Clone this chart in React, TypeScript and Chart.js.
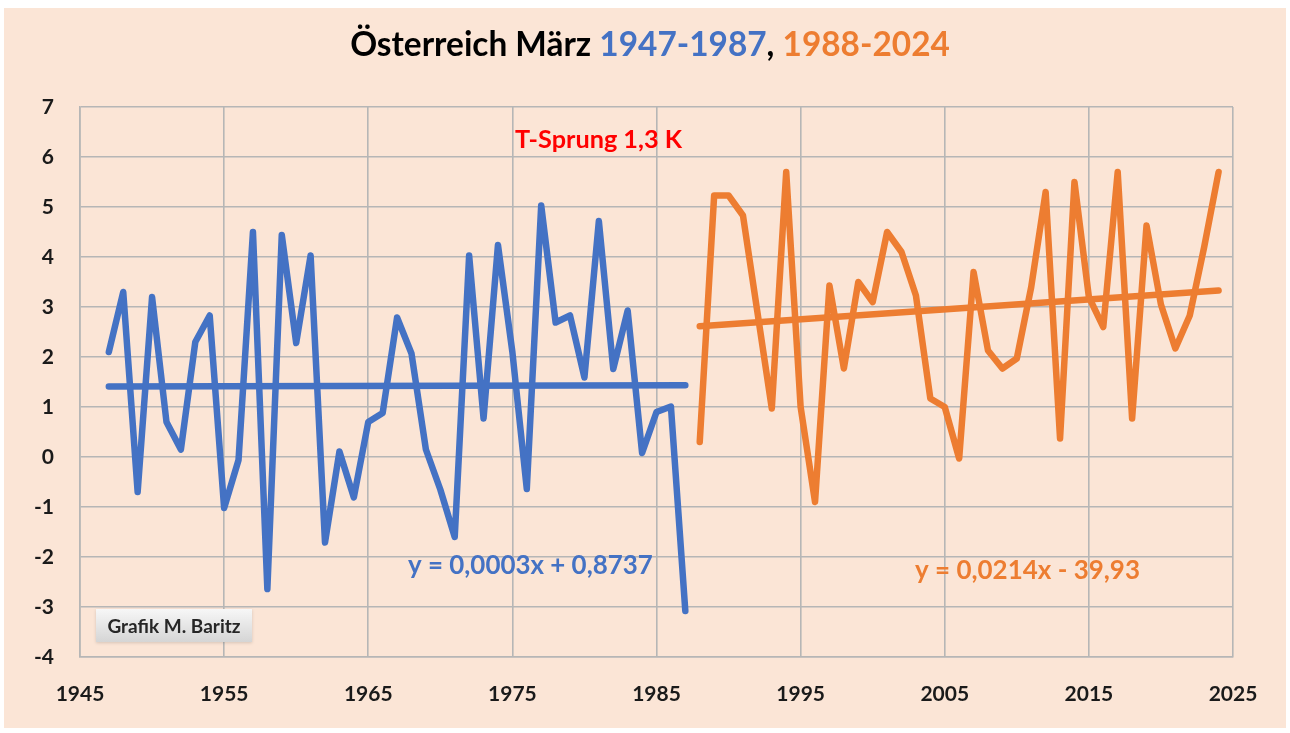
import React, { useEffect, useRef } from "react";
import { Chart, registerables } from "chart.js";

Chart.register(...registerables);

// ---- Data ----
const blueYears = [
  1947, 1948, 1949, 1950, 1951, 1952, 1953, 1954, 1955, 1956, 1957, 1958, 1959, 1960,
  1961, 1962, 1963, 1964, 1965, 1966, 1967, 1968, 1969, 1970, 1971, 1972, 1973, 1974,
  1975, 1976, 1977, 1978, 1979, 1980, 1981, 1982, 1983, 1984, 1985, 1986, 1987,
];
const blueValues = [
  2.1, 3.3, -0.7, 3.2, 0.7, 0.15, 2.3, 2.83, -1.02, -0.06, 4.5, -2.64, 4.44, 2.28,
  4.03, -1.71, 0.11, -0.81, 0.7, 0.88, 2.79, 2.07, 0.15, -0.65, -1.6, 4.03, 0.77, 4.24,
  2.1, -0.64, 5.03, 2.69, 2.83, 1.59, 4.72, 1.76, 2.93, 0.08, 0.9, 1.01, -3.08,
];
const orangeYears = [
  1988, 1989, 1990, 1991, 1992, 1993, 1994, 1995, 1996, 1997, 1998, 1999, 2000, 2001,
  2002, 2003, 2004, 2005, 2006, 2007, 2008, 2009, 2010, 2011, 2012, 2013, 2014, 2015,
  2016, 2017, 2018, 2019, 2020, 2021, 2022, 2023, 2024,
];
const orangeValues = [
  0.3, 5.23, 5.23, 4.83, 2.9, 0.97, 5.7, 1.0, -0.9, 3.43, 1.77, 3.5, 3.1, 4.5,
  4.1, 3.23, 1.17, 1.0, -0.03, 3.7, 2.13, 1.77, 1.97, 3.4, 5.3, 0.37, 5.5, 3.2,
  2.6, 5.7, 0.77, 4.63, 3.05, 2.17, 2.83, 4.2, 5.7,
];
const xTicks = [1945, 1955, 1965, 1975, 1985, 1995, 2005, 2015, 2025];
const yTicks = [-4, -3, -2, -1, 0, 1, 2, 3, 4, 5, 6, 7];

const titleParts = [
  { text: "Österreich März ", color: "#000000" },
  { text: "1947-1987", color: "#4472C4" },
  { text: ", ", color: "#000000" },
  { text: "1988-2024", color: "#ED7D31" },
];
const jumpLabel = "T-Sprung 1,3 K";
const blueEquation = "y = 0,0003x + 0,8737";
const orangeEquation = "y = 0,0214x - 39,93";
const creditLabel = "Grafik M. Baritz";

const BLUE = "#4472C4";
const ORANGE = "#ED7D31";
const PEACH = "#FBE5D6";
const GRID = "#B6B6B6";
const FONT = "Lato, 'Open Sans', sans-serif";

function regression(xs: number[], ys: number[]) {
  const n = xs.length;
  const mx = xs.reduce((a, b) => a + b, 0) / n;
  const my = ys.reduce((a, b) => a + b, 0) / n;
  let num = 0;
  let den = 0;
  for (let i = 0; i < n; i++) {
    num += (xs[i] - mx) * (ys[i] - my);
    den += (xs[i] - mx) * (xs[i] - mx);
  }
  const slope = num / den;
  const intercept = my - slope * mx;
  return (x: number) => slope * x + intercept;
}

function fitSize(ctx: CanvasRenderingContext2D, text: string, weight: string, width: number) {
  ctx.font = `${weight} 100px ${FONT}`;
  const w = ctx.measureText(text).width;
  return (100 * width) / w;
}

const decorPlugin = {
  id: "decor",
  beforeDraw(chart: any) {
    const ctx = chart.ctx as CanvasRenderingContext2D;
    ctx.save();
    ctx.fillStyle = "#ffffff";
    ctx.fillRect(0, 0, chart.width, chart.height);
    ctx.fillStyle = PEACH;
    ctx.fillRect(4, 8, 1282, 720);
    ctx.restore();
  },
  afterDraw(chart: any) {
    const ctx = chart.ctx as CanvasRenderingContext2D;
    ctx.save();
    ctx.textBaseline = "middle";

    // Title with coloured parts
    const full = titleParts.map((p) => p.text).join("");
    const tSize = fitSize(ctx, full, "bold", 600);
    ctx.font = `bold ${tSize}px ${FONT}`;
    const totalW = ctx.measureText(full).width;
    let x = 650 - totalW / 2;
    ctx.textAlign = "left";
    for (const p of titleParts) {
      ctx.fillStyle = p.color;
      ctx.fillText(p.text, x, 45);
      x += ctx.measureText(p.text).width;
    }

    // T-Sprung
    const jSize = fitSize(ctx, jumpLabel, "bold", 167);
    ctx.font = `bold ${jSize}px ${FONT}`;
    ctx.fillStyle = "#FF0000";
    ctx.textAlign = "left";
    ctx.fillText(jumpLabel, 515, 140);

    // Equations
    const bSize = fitSize(ctx, blueEquation, "bold", 245);
    ctx.font = `bold ${bSize}px ${FONT}`;
    ctx.fillStyle = BLUE;
    ctx.fillText(blueEquation, 408, 566);

    const oSize = fitSize(ctx, orangeEquation, "bold", 225);
    ctx.font = `bold ${oSize}px ${FONT}`;
    ctx.fillStyle = ORANGE;
    ctx.fillText(orangeEquation, 915, 571);

    // Credit box
    const bx = 96, by = 609, bw = 156, bh = 33;
    ctx.shadowColor = "rgba(0,0,0,0.15)";
    ctx.shadowBlur = 3;
    ctx.shadowOffsetY = 1;
    const g = ctx.createLinearGradient(0, by, 0, by + bh);
    g.addColorStop(0, "#F7F7F7");
    g.addColorStop(1, "#D5D5D5");
    ctx.fillStyle = g;
    ctx.fillRect(bx, by, bw, bh);
    ctx.shadowColor = "transparent";
    const cSize = fitSize(ctx, creditLabel, "bold", 136);
    ctx.font = `bold ${Math.min(cSize, 19)}px ${FONT}`;
    ctx.fillStyle = "#262626";
    ctx.textAlign = "center";
    ctx.fillText(creditLabel, bx + bw / 2, by + bh / 2 + 1);

    ctx.restore();
  },
};

export default function App() {
  const ref = useRef<HTMLCanvasElement | null>(null);

  useEffect(() => {
    document.body.style.margin = "0";
    document.body.style.overflow = "hidden";
    const canvas = ref.current;
    if (!canvas) return;

    const blueFit = regression(blueYears, blueValues);
    const orangeFit = regression(orangeYears, orangeValues);
    const bFirst = blueYears[0];
    const bLast = blueYears[blueYears.length - 1];
    const oFirst = orangeYears[0];
    const oLast = orangeYears[orangeYears.length - 1];

    const lineCommon = {
      pointRadius: 0,
      borderWidth: 6.5,
      borderJoinStyle: "round" as const,
      borderCapStyle: "round" as const,
      tension: 0,
      fill: false,
    };

    const chart = new Chart(canvas, {
      type: "line",
      data: {
        datasets: [
          {
            ...lineCommon,
            label: "1947-1987",
            data: blueYears.map((y, i) => ({ x: y, y: blueValues[i] })),
            borderColor: BLUE,
          },
          {
            ...lineCommon,
            label: "1988-2024",
            data: orangeYears.map((y, i) => ({ x: y, y: orangeValues[i] })),
            borderColor: ORANGE,
          },
          {
            ...lineCommon,
            label: "Trend 1947-1987",
            data: [
              { x: bFirst, y: blueFit(bFirst) },
              { x: bLast, y: blueFit(bLast) },
            ],
            borderColor: BLUE,
          },
          {
            ...lineCommon,
            label: "Trend 1988-2024",
            data: [
              { x: oFirst, y: orangeFit(oFirst) },
              { x: oLast, y: orangeFit(oLast) },
            ],
            borderColor: ORANGE,
          },
        ],
      },
      options: {
        responsive: false,
        animation: false,
        layout: { padding: { top: 107, right: 57, left: 0, bottom: 0 } },
        plugins: {
          legend: { display: false },
          title: { display: false },
          tooltip: { enabled: false },
        },
        scales: {
          x: {
            type: "linear",
            min: xTicks[0],
            max: xTicks[xTicks.length - 1],
            afterBuildTicks: (s: any) => {
              s.ticks = xTicks.map((v) => ({ value: v }));
            },
            afterFit: (s: any) => {
              s.height = 76;
            },
            ticks: {
              callback: (v: any) => String(v),
              color: "#1a1a1a",
              font: { family: FONT, size: 21, weight: "bold" },
              padding: 25,
              maxRotation: 0,
              autoSkip: false,
            },
            grid: { color: GRID, lineWidth: 1.6, drawTicks: false },
            border: { color: GRID, width: 1.6 },
          },
          y: {
            type: "linear",
            min: yTicks[0],
            max: yTicks[yTicks.length - 1],
            afterBuildTicks: (s: any) => {
              s.ticks = yTicks.map((v) => ({ value: v }));
            },
            afterFit: (s: any) => {
              s.width = 80;
            },
            ticks: {
              callback: (v: any) => String(v),
              color: "#1a1a1a",
              font: { family: FONT, size: 21, weight: "bold" },
              padding: 26,
              autoSkip: false,
            },
            grid: { color: GRID, lineWidth: 1.6, drawTicks: false },
            border: { color: GRID, width: 1.6 },
          },
        },
      },
      plugins: [decorPlugin],
    });

    return () => chart.destroy();
  }, []);

  return (
    <div style={{ width: 1290, height: 733, background: "#ffffff" }}>
      <canvas ref={ref} width={1290} height={733} style={{ display: "block", width: 1290, height: 733 }} />
    </div>
  );
}
